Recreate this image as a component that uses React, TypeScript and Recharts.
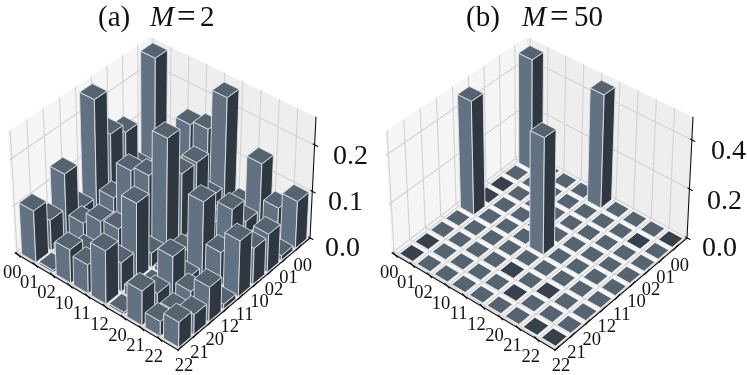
import { Scatter, ScatterChart, XAxis, YAxis } from "recharts";

const WIDTH = 747;
const HEIGHT = 375;

const LABELS = ["00", "01", "02", "10", "11", "12", "20", "21", "22"];

// rows: first label (left edge), columns: second label (right edge)
const VALUES_A = [
  [0.255, 0.03, 0.135, 0.155, 0.255, 0.04, 0.14, 0.065, 0.11],
  [0.04, 0.03, 0.05, 0.05, 0.06, 0.03, 0.055, 0.02, 0.005],
  [0.145, 0.05, 0.04, 0.06, 0.14, 0.04, 0.08, 0.04, 0.07],
  [0.155, 0.06, 0.11, 0.05, 0.15, 0.03, 0.085, 0.03, 0.06],
  [0.245, 0.05, 0.15, 0.15, 0.25, 0.03, 0.16, 0.06, 0.11],
  [0.03, 0.03, 0.04, 0.02, 0.03, 0.01, 0.005, 0.02, 0.005],
  [0.14, 0.04, 0.09, 0.02, 0.155, 0.02, 0.09, 0.04, 0.07],
  [0.065, 0.02, 0.03, 0.02, 0.07, 0.01, 0.04, 0.025, 0.03],
  [0.1, 0.01, 0.08, 0.075, 0.115, 0.01, 0.07, 0.04, 0.05],
];

const VALUES_B = [
  [0.475, 0.002, 0.002, 0.002, 0.475, 0.002, 0.002, 0.002, 0.002],
  [0.002, 0.002, 0.002, 0.002, 0.002, 0.002, 0.002, 0.002, 0.002],
  [0.002, 0.002, 0.002, 0.002, 0.002, 0.002, 0.002, 0.002, 0.002],
  [0.002, 0.002, 0.002, 0.002, 0.002, 0.002, 0.002, 0.002, 0.002],
  [0.475, 0.002, 0.002, 0.002, 0.475, 0.002, 0.002, 0.002, 0.002],
  [0.002, 0.002, 0.002, 0.002, 0.002, 0.002, 0.002, 0.002, 0.002],
  [0.002, 0.002, 0.002, 0.002, 0.002, 0.002, 0.002, 0.002, 0.002],
  [0.002, 0.002, 0.002, 0.002, 0.002, 0.002, 0.002, 0.002, 0.002],
  [0.002, 0.002, 0.002, 0.002, 0.002, 0.002, 0.002, 0.002, 0.002],
];

// cells whose flat tile reads darker in panel b
const DARK_B = ["0-8", "0-7", "0-2", "0-3", "4-6", "5-7", "6-6", "7-8", "8-8", "7-1", "8-0"];

const TICKS_A = [0, 0.1, 0.2];
const TICKS_B = [0, 0.2, 0.4];

const C_LEFT = "#627282";
const C_TOP = "#566471";
const C_RIGHT = "#2f3842";
const C_DARK = "#36414c";
const C_EDGE = "#dfe3e6";

type Pt = [number, number];
type Poly = { pts: Pt[]; fill: string; stroke?: string; sw?: number };

function quadMap(q: Pt[]) {
  const [[x0, y0], [x1, y1], [x2, y2], [x3, y3]] = q;
  const dx1 = x1 - x2, dx2 = x3 - x2, sx = x0 - x1 + x2 - x3;
  const dy1 = y1 - y2, dy2 = y3 - y2, sy = y0 - y1 + y2 - y3;
  const den = dx1 * dy2 - dx2 * dy1;
  const g = (sx * dy2 - dx2 * sy) / den;
  const h = (dx1 * sy - sx * dy1) / den;
  const a = x1 - x0 + g * x1, b = x3 - x0 + h * x3;
  const d = y1 - y0 + g * y1, e = y3 - y0 + h * y3;
  return (X: number, Y: number): Pt => {
    const w = g * X + h * Y + 1;
    return [(a * X + b * Y + x0) / w, (d * X + e * Y + y0) / w];
  };
}

// back, right, front, left corners of the box
const FLOOR: Pt[] = [[150, 150], [310, 238], [178, 350], [15, 253]];
const ROOF: Pt[] = [[150, 37], [316, 117], [180, 219], [8, 132]];

const cellX = (i: number) => 0.0745 + 0.109 * i;
const cellY = (j: number) => 0.06 + 0.11 * j;
const tickX = (i: number) => 0.02 + 0.109 * i;
const tickY = (j: number) => 0.09 + 0.112 * j;

function makePanel(dx: number, values: number[][], zMax: number, ticks: number[], dark: string[], half: number) {
  const shift = (q: Pt[]) => q.map(([x, y]) => [x + dx, y] as Pt);
  const floor = quadMap(shift(FLOOR));
  const roof = quadMap(shift(ROOF));
  const at = (X: number, Y: number, z: number): Pt => {
    const a = floor(X, Y), b = roof(X, Y), t = z / zMax;
    return [a[0] + (b[0] - a[0]) * t, a[1] + (b[1] - a[1]) * t];
  };

  const back: Poly[] = [];
  back.push({ pts: [at(0, 0, 0), at(1, 0, 0), at(1, 1, 0), at(0, 1, 0)], fill: "#f6f6f7" });
  back.push({ pts: [at(0, 0, 0), at(0, 1, 0), at(0, 1, zMax), at(0, 0, zMax)], fill: "#f5f5f5" });
  back.push({ pts: [at(0, 0, 0), at(1, 0, 0), at(1, 0, zMax), at(0, 0, zMax)], fill: "#eeeeee" });
  const GRID = "#d2d2d2";
  const line = (a: Pt, b: Pt, stroke = GRID, sw = 1.1): Poly => ({ pts: [a, b], fill: "none", stroke, sw });
  LABELS.forEach((_, k) => {
    const X = tickX(k), Y = tickY(k);
    back.push(line(at(X, 0, 0), at(X, 1, 0)));
    back.push(line(at(X, 0, 0), at(X, 0, zMax)));
    back.push(line(at(0, Y, 0), at(1, Y, 0)));
    back.push(line(at(0, Y, 0), at(0, Y, zMax)));
  });
  ticks.forEach((t) => {
    back.push(line(at(0, 1, t), at(0, 0, t)));
    back.push(line(at(0, 0, t), at(1, 0, t)));
  });
  // pale pane rims along the two front edges
  back.push(line(at(0, 0.995, 0), at(1, 0.995, 0), "#dcdcdc", 2));
  back.push(line(at(0.995, 0, 0), at(0.995, 1, 0), "#dcdcdc", 2));

  const bars: { x: number; y: number; polys: Poly[] }[] = [];
  const order: [number, number][] = [];
  values.forEach((row, i) => row.forEach((_, j) => order.push([i, j])));
  order.sort((p, q) => p[0] + p[1] - q[0] - q[1]);
  order.forEach(([i, j]) => {
    const v = values[i][j];
    const x0 = cellX(i) - half, x1 = cellX(i) + half;
    const y0 = cellY(j) - half, y1 = cellY(j) + half;
    const isDark = dark.includes(`${i}-${j}`);
    const base = at(cellX(i), cellY(j), 0);
    const edge = v < 0.01 ? "#f1f2f3" : C_EDGE;
    bars.push({
      x: base[0],
      y: base[1],
      polys: [
        { pts: [at(x0, y1, 0), at(x1, y1, 0), at(x1, y1, v), at(x0, y1, v)], fill: C_LEFT, stroke: edge, sw: 0.9 },
        { pts: [at(x1, y0, 0), at(x1, y1, 0), at(x1, y1, v), at(x1, y0, v)], fill: C_RIGHT, stroke: edge, sw: 0.9 },
        { pts: [at(x0, y0, v), at(x1, y0, v), at(x1, y1, v), at(x0, y1, v)], fill: isDark ? C_DARK : C_TOP, stroke: edge, sw: 0.9 },
      ],
    });
  });

  const axes: Poly[] = [];
  const ink = (a: Pt, b: Pt, sw = 1.1) => axes.push({ pts: [a, b], fill: "none", stroke: "#111111", sw });
  ink(at(0, 1, 0), at(1, 1, 0));
  ink(at(1, 1, 0), at(1, 0, 0));
  ink(at(1, 0, 0), at(1, 0, zMax));
  LABELS.forEach((_, k) => {
    const p = at(tickX(k), 1, 0);
    ink([p[0] - 2.2, p[1] - 2.4], [p[0] + 2.2, p[1] + 2.4]);
    const q = at(1, tickY(k), 0);
    ink([q[0] + 2.2, q[1] - 2.4], [q[0] - 2.2, q[1] + 2.4]);
  });
  ticks.forEach((t) => {
    const p = at(1, 0, t);
    ink([p[0] - 1.5, p[1] - 1], [p[0] + 3, p[1] + 1.5]);
  });

  const texts = LABELS.flatMap((label, k) => {
    const p = at(tickX(k), 1, 0);
    const q = at(1, tickY(k), 0);
    return [
      { x: p[0] - 6, y: p[1] + 23, label },
      { x: q[0] + 4, y: q[1] + 23, label },
    ];
  });

  return {
    back: back.map((p) => ({ x: p.pts[0][0], y: p.pts[0][1], polys: [p] })),
    bars,
    axes: axes.map((p) => ({ x: p.pts[0][0], y: p.pts[0][1], polys: [p] })),
    texts,
  };
}

const PANEL_A = makePanel(0, VALUES_A, 0.26, TICKS_A, [], 0.045);
const PANEL_B = makePanel(377, VALUES_B, 0.494, TICKS_B, DARK_B, 0.042);

const Z_LABELS = [
  { x: 325, y: 256, label: "0.0" },
  { x: 328, y: 210, label: "0.1" },
  { x: 333, y: 164, label: "0.2" },
  { x: 702, y: 256, label: "0.0" },
  { x: 707, y: 209, label: "0.2" },
  { x: 711, y: 159, label: "0.4" },
];

const TITLES = [
  { x: 98, y: 26, tag: "(a)", m: 150, eq: 177, num: 200, rest: "2" },
  { x: 466, y: 26, tag: "(b)", m: 522, eq: 550, num: 574, rest: "50" },
];

const FONT = "'Liberation Serif', serif";

function PolyShape(props: any) {
  const { cx, cy, payload } = props;
  const ox = cx - payload.x;
  const oy = cy - payload.y;
  return (
    <g>
      {payload.polys.map((p: Poly, k: number) => (
        <polygon
          key={k}
          points={p.pts.map(([x, y]) => `${x + ox},${y + oy}`).join(" ")}
          fill={p.fill}
          stroke={p.stroke ?? "none"}
          strokeWidth={p.sw ?? 0}
          strokeLinejoin="round"
        />
      ))}
    </g>
  );
}

const textShape = (size: number, anchor: "start" | "middle") => (props: any) => (
  <text x={props.cx} y={props.cy} fontSize={size} fontFamily={FONT} fill="#111" textAnchor={anchor}>
    {props.payload.label}
  </text>
);

function TitleShape(props: any) {
  const { cx, cy, payload } = props;
  const ox = cx - payload.x;
  return (
    <g fontFamily={FONT} fontSize={29} fill="#111">
      <text x={cx} y={cy}>{payload.tag}</text>
      <text x={payload.m + ox} y={cy} fontStyle="italic">M</text>
      <text x={payload.eq + ox} y={cy + 1} fontSize={33}>=</text>
      <text x={payload.num + ox} y={cy}>{payload.rest}</text>
    </g>
  );
}

const ROWS = [PANEL_A, PANEL_B];

export default function App() {
  return (
    <div style={{ position: "fixed", left: 0, top: 0, width: WIDTH, height: HEIGHT, background: "#fff", filter: "blur(0.35px)" }}>
      <ScatterChart width={WIDTH} height={HEIGHT} margin={{ top: 0, right: 0, bottom: 0, left: 0 }}>
        <XAxis type="number" dataKey="x" domain={[0, WIDTH]} hide allowDataOverflow />
        <YAxis type="number" dataKey="y" domain={[0, HEIGHT]} reversed hide allowDataOverflow />
        {ROWS.map((panel, k) => [
          <Scatter key={`back${k}`} data={panel.back} shape={PolyShape} isAnimationActive={false} />,
          <Scatter key={`bars${k}`} data={panel.bars} shape={PolyShape} isAnimationActive={false} />,
          <Scatter key={`axes${k}`} data={panel.axes} shape={PolyShape} isAnimationActive={false} />,
          <Scatter key={`text${k}`} data={panel.texts} shape={textShape(18.5, "middle")} isAnimationActive={false} />,
        ])}
        <Scatter data={Z_LABELS} shape={textShape(28, "start")} isAnimationActive={false} />
        <Scatter data={TITLES} shape={TitleShape} isAnimationActive={false} />
      </ScatterChart>
    </div>
  );
}
